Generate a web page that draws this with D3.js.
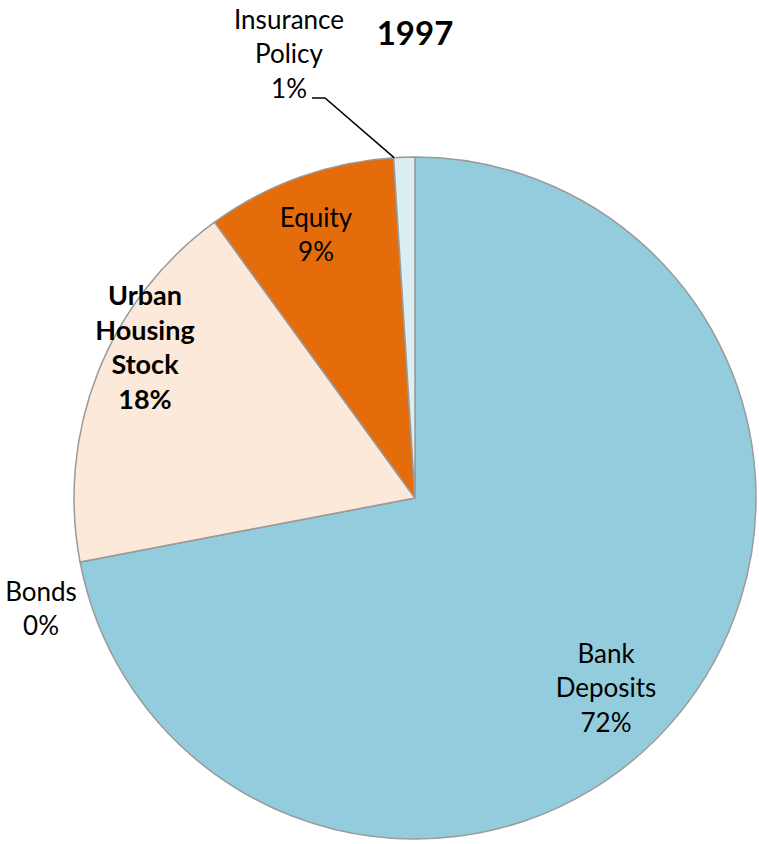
<!DOCTYPE html>
<html><head><meta charset="utf-8">
<script src="https://cdn.jsdelivr.net/npm/d3@7"></script>
<style>body{margin:0;background:#fff}svg{display:block}text{font-family:"Lato","Noto Sans",sans-serif;fill:#000}</style>
</head><body>
<svg id="c" width="759" height="844"></svg>
<script>
const categories = ["Bank Deposits", "Bonds", "Urban Housing Stock", "Equity", "Insurance Policy"];
const values = [72, 0, 18, 9, 1];
const percentLabels = ["72%", "0%", "18%", "9%", "1%"];
const title = "1997";

const colors = ["#93CDDD", "#B9CDE5", "#FDE9D9", "#E46C0A", "#DAEEF3"];
// label layout: line splits, bold flag, block-centre offset from pie centre (px)
const labelLines = [["Bank", "Deposits"], ["Bonds"], ["Urban", "Housing", "Stock"], ["Equity"], ["Insurance", "Policy"]];
const labelBold = [false, false, true, false, false];
const labelOffset = [[191, 190], [-374, 111], [-270, -150], [-99, -263], [-126, -444]];

const svg = d3.select("#c");
const cx = 415, cy = 498, R = 341;
const g = svg.append("g").attr("transform", `translate(${cx},${cy})`);
const data = categories.map((c, i) => ({c, v: values[i], i}));
const pie = d3.pie().value(d => d.v).sort(null);
const arc = d3.arc().innerRadius(0).outerRadius(R);
const arcs = pie(data);

g.selectAll("path").data(arcs).join("path")
  .attr("d", arc)
  .attr("fill", d => colors[d.data.i])
  .attr("stroke", "#9a9a9a")
  .attr("stroke-width", 1.5)
  .attr("stroke-linejoin", "round");

const lh = 34.5;
arcs.forEach(a => {
  const i = a.data.i;
  const lines = labelLines[i].concat([percentLabels[i]]);
  const [ox, oy] = labelOffset[i];
  const t = g.append("text")
    .attr("text-anchor", "middle")
    .attr("font-size", labelBold[i] ? 27 : 26)
    .attr("font-weight", labelBold[i] ? "bold" : "normal");
  lines.forEach((l, k) => {
    t.append("tspan").attr("x", ox).attr("y", oy + (k - (lines.length - 1) / 2) * lh + 9).text(l);
  });
});

// leader line for Insurance Policy
const ins = arcs[4];
const mid = (ins.startAngle + ins.endAngle) / 2;
const ex = Math.sin(mid - 0.03) * R, ey = -Math.cos(mid - 0.03) * R;
const lo = labelOffset[4];
g.append("polyline")
  .attr("points", `${lo[0] + 23},${lo[1] + 44} ${lo[0] + 36},${lo[1] + 44} ${ex},${ey}`)
  .attr("fill", "none").attr("stroke", "#000").attr("stroke-width", 1.5);

svg.append("text").attr("x", cx).attr("y", 45).attr("text-anchor", "middle")
  .attr("font-size", 33).attr("font-weight", "bold").text(title);
</script>
</body></html>
